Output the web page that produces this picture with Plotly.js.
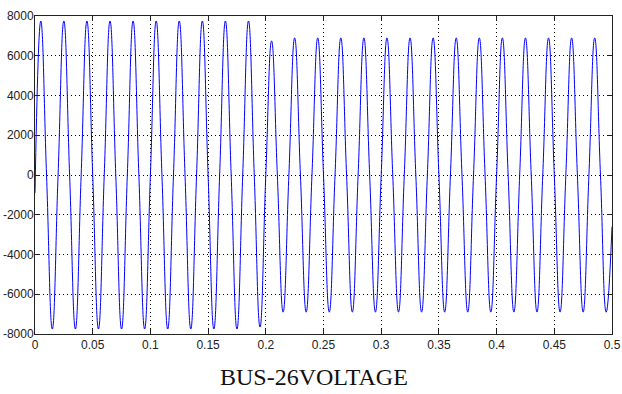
<!DOCTYPE html>
<html>
<head>
<meta charset="utf-8">
<script src="https://cdn.plot.ly/plotly-3.0.1.min.js"></script>
<style>html,body{margin:0;padding:0;background:#fff;}#chart{width:622px;height:394px;}</style>
</head>
<body>
<div id="chart"></div>
<script>
// Sample times (s): start, then peaks / zero crossings / troughs
var timeS = [0,0.005,0.01,0.015,0.02,0.025,0.03,0.035,0.04,0.045,0.05,0.055,0.06,0.065,0.07,0.075,0.08,0.085,0.09,0.095,
  0.1,0.105,0.11,0.115,0.12,0.125,0.13,0.135,0.14,0.145,0.15,0.155,0.16,0.165,0.17,0.175,0.18,0.185,0.19,0.195,
  0.2,0.205,0.21,0.215,0.22,0.225,0.23,0.235,0.24,0.245,0.25,0.255,0.26,0.265,0.27,0.275,0.28,0.285,0.29,0.295,
  0.3,0.305,0.31,0.315,0.32,0.325,0.33,0.335,0.34,0.345,0.35,0.355,0.36,0.365,0.37,0.375,0.38,0.385,0.39,0.395,
  0.4,0.405,0.41,0.415,0.42,0.425,0.43,0.435,0.44,0.445,0.45,0.455,0.46,0.465,0.47,0.475,0.48,0.485,0.49,0.495,0.5];
// Bus voltage values at those times
var voltage = [-900,
  7750,0,-7750,0, 7750,0,-7750,0, 7750,0,-7750,0, 7750,0,-7750,0, 7750,0,-7750,0,
  7750,0,-7750,0, 7750,0,-7750,0, 7750,0,-7750,0, 7750,0,-7750,0, 7750,0,-7650,0,
  6750,0,-6900,0, 6900,0,-6900,0, 6900,0,-6900,0, 6900,0,-6900,0, 6900,0,-6900,0,
  6900,0,-6900,0, 6900,0,-6900,0, 6900,0,-6900,0, 6900,0,-6900,0, 6900,0,-6900,0,
  6900,0,-6900,0, 6900,0,-6900,0, 6900,0,-6900,0, 6900,0,-6900,0, 6900,0,-6900,-2600];

var xTickVals = [0,0.05,0.1,0.15,0.2,0.25,0.3,0.35,0.4,0.45,0.5];
var xTickText = ['0','0.05','0.1','0.15','0.2','0.25','0.3','0.35','0.4','0.45','0.5'];
var yTickVals = [-8000,-6000,-4000,-2000,0,2000,4000,6000,8000];
var yTickText = ['-8000','-6000','-4000','-2000','0','2000','4000','6000','8000'];
var chartTitle = 'BUS-26VOLTAGE';

var tickFont = {family: 'Liberation Sans Narrow, Arial Narrow, Liberation Sans, Arial, sans-serif', size: 12, color: '#222'};
var axisCommon = {
  showline: true, linecolor: '#222', linewidth: 1, mirror: 'ticks',
  ticks: 'inside', ticklen: 5, tickwidth: 1, tickcolor: '#222',
  showgrid: true, gridcolor: '#000', gridwidth: 1, griddash: '1px,3px',
  zeroline: false, tickfont: tickFont, tickmode: 'array', fixedrange: true
};

var trace = {
  x: timeS, y: voltage, type: 'scatter', mode: 'lines',
  line: {color: 'rgb(0,0,255)', width: 1, shape: 'spline', smoothing: 1.3},
  hoverinfo: 'skip'
};

var layout = {
  width: 622, height: 394,
  margin: {l: 35, r: 10, t: 16, b: 60},
  paper_bgcolor: '#fff', plot_bgcolor: '#fff',
  showlegend: false,
  xaxis: Object.assign({}, axisCommon, {range: [0, 0.5], tickvals: xTickVals, ticktext: xTickText}),
  yaxis: Object.assign({}, axisCommon, {range: [-8000, 8000], tickvals: yTickVals, ticktext: yTickText, ticklabelstandoff: -2}),
  annotations: [{
    text: chartTitle, xref: 'paper', yref: 'paper', x: 0.4835, y: -0.135,
    xanchor: 'center', yanchor: 'middle', showarrow: false,
    font: {family: 'Liberation Serif, Times New Roman, serif', size: 24, color: '#111'}
  }]
};

Plotly.newPlot('chart', [trace], layout, {displayModeBar: false, staticPlot: true});
</script>
</body>
</html>
